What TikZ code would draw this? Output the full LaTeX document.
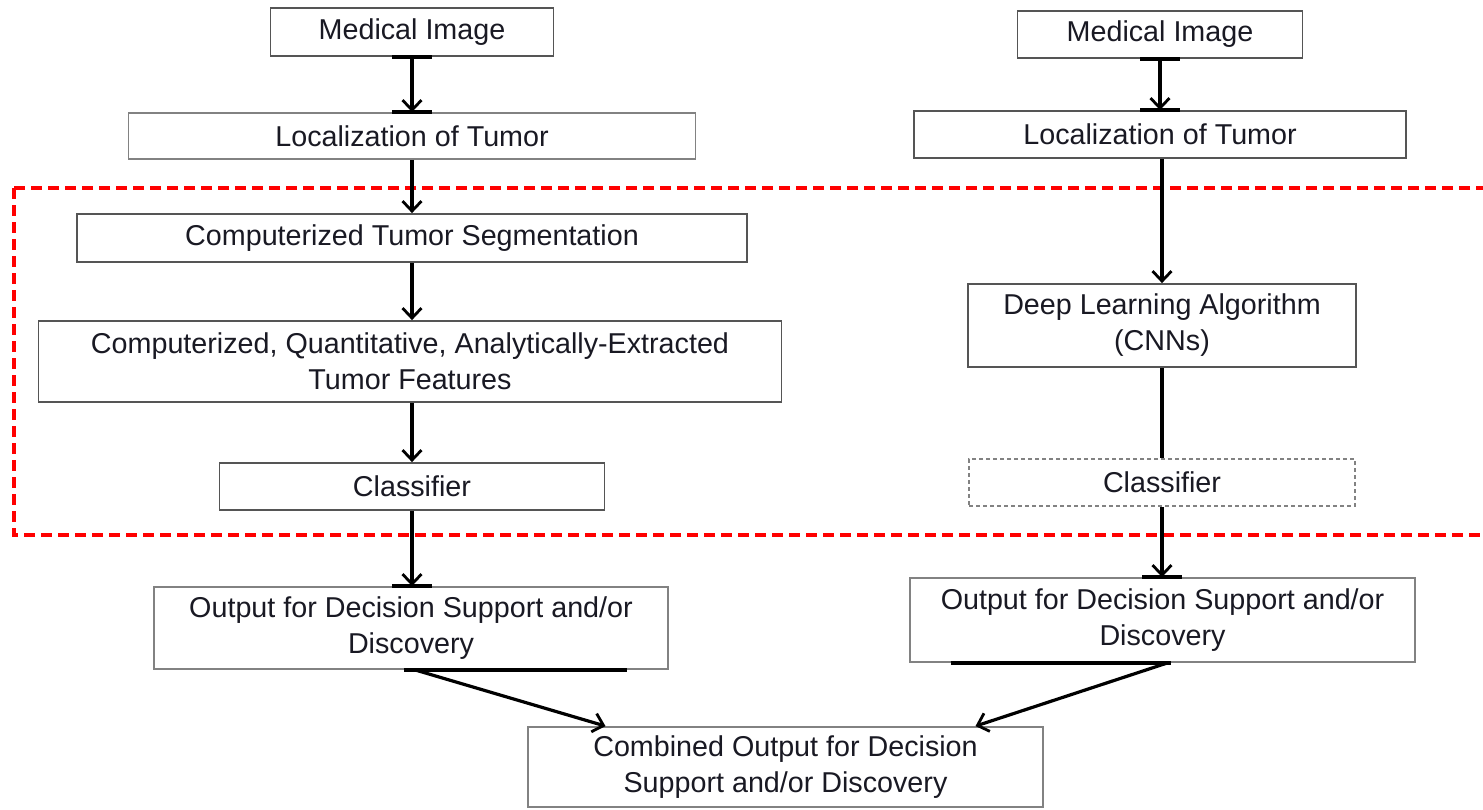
\documentclass[tikz,border=0pt]{standalone}
\usepackage{fontspec}
\setmainfont{Liberation Sans}
\usetikzlibrary{arrows.meta}
\definecolor{boxgray}{RGB}{85,85,85}
\definecolor{lightgray2}{RGB}{130,130,130}
\definecolor{txt}{RGB}{25,25,35}
\tikzset{
  box/.style={draw=boxgray, line width=1.8pt, rectangle, inner sep=0pt, align=center,
    text=txt, font=\fontsize{28.7}{36}\selectfont},
  lbox/.style={box, draw=lightgray2},
  dbox/.style={box, draw=lightgray2, dash pattern=on 4pt off 3pt, line width=1.5pt},
  arr/.style={draw=black, line width=3.2pt, -{Straight Barb[length=10pt,width=19pt,line width=2.8pt]}},
  conn/.style={draw=black, line width=3.4pt},
  bar/.style={draw=black, line width=3.8pt},
  redbox/.style={draw=red, line width=3.2pt, dash pattern=on 11pt off 6pt}
}
\begin{document}
\begin{tikzpicture}[x=1pt,y=-1pt]
\useasboundingbox[fill=white] (0,0) rectangle (1483,809);

% red dashed region
\begin{scope}
\clip (0,0) rectangle (1483,809);
\draw[redbox] (14,188) rectangle (1500,535);
\end{scope}

% left column
\node[box, minimum width=283pt, minimum height=48pt] (mi1) at (412,32) {Medical Image};
\node[lbox, minimum width=567pt, minimum height=46pt] (loc1) at (412,136) {Localization of Tumor};
\node[box, minimum width=670pt, minimum height=48pt] (seg) at (412,238) {Computerized Tumor Segmentation};
\node[box, minimum width=743pt, minimum height=81pt] (feat) at (410,361.5) {Computerized, Quantitative, Analytically-Extracted\\Tumor Features};
\node[box, minimum width=385pt, minimum height=47pt] (cls1) at (412,486.5) {Classifier};
\node[lbox, minimum width=514pt, minimum height=82pt] (out1) at (411,628) {Output for Decision Support and/or\\Discovery};

% right column
\node[box, minimum width=285pt, minimum height=47pt] (mi2) at (1160,34.5) {Medical Image};
\node[box, minimum width=492pt, minimum height=47pt] (loc2) at (1160,134.5) {Localization of Tumor};
\node[box, minimum width=388pt, minimum height=83pt] (dl) at (1162,325.5) {Deep Learning Algorithm\\(CNNs)};
\node[dbox, minimum width=386pt, minimum height=47pt] (cls2) at (1162,482.5) {Classifier};
\node[lbox, minimum width=505pt, minimum height=84pt] (out2) at (1162.5,620) {Output for Decision Support and/or\\Discovery};

% combined
\node[lbox, minimum width=515pt, minimum height=80pt] (comb) at (785.5,767) {Combined Output for Decision\\Support and/or Discovery};

% left connectors
\draw[arr] (mi1.south) -- (mi1.south |- loc1.north);
\draw[bar] ([xshift=-20pt]mi1.south) -- ([xshift=20pt]mi1.south);
\draw[bar] ([xshift=-20pt]loc1.north) -- ([xshift=20pt]loc1.north);
\draw[arr] (loc1.south) -- (loc1.south |- seg.north);
\draw[arr] (seg.south) -- (seg.south |- feat.north);
\draw[arr] (seg.south |- feat.south) -- (seg.south |- cls1.north);
\draw[arr] (cls1.south) -- (cls1.south |- out1.north);
\draw[bar] ([xshift=-20pt]cls1.south |- out1.north) -- ([xshift=20pt]cls1.south |- out1.north);

% right connectors
\draw[arr] (mi2.south) -- (mi2.south |- loc2.north);
\draw[bar] ([xshift=-20pt]mi2.south) -- ([xshift=20pt]mi2.south);
\draw[bar] ([xshift=-20pt]mi2.south |- loc2.north) -- ([xshift=20pt]mi2.south |- loc2.north);
\draw[arr] (dl.north |- loc2.south) -- (dl.north);
\draw[conn] (dl.south) -- (cls2.north);
\draw[arr] (cls2.south) -- (cls2.south |- out2.north);
\draw[bar] ([xshift=-20pt]cls2.south |- out2.north) -- ([xshift=20pt]cls2.south |- out2.north);

% bottom thick edges and arrows to combined output
\draw[bar] ([xshift=-7pt]out1.south) -- ([xshift=216pt]out1.south);
\draw[bar] ([xshift=-212pt]out2.south) -- ([xshift=8pt]out2.south);
\draw[arr] ([xshift=4pt]out1.south) -- ([xshift=-180pt]comb.north);
\draw[arr] ([xshift=5pt]out2.south) -- ([xshift=190pt]comb.north);
\end{tikzpicture}
\end{document}
